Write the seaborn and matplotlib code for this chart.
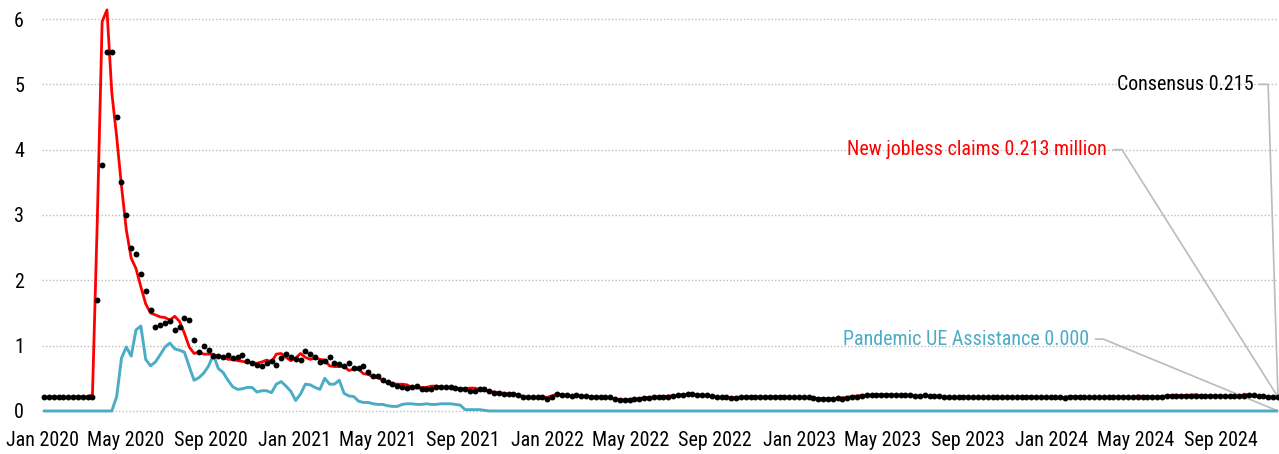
import matplotlib
matplotlib.use("Agg")
import matplotlib.pyplot as plt
import matplotlib.dates as mdates
from matplotlib import font_manager as fm
import numpy as np
import pandas as pd
import seaborn as sns

# weekly series, millions, week ending Saturday from 2020-01-04
claims = [
    0.212, 0.207, 0.220, 0.214, 0.203, 0.205, 0.215, 0.219, 0.217, 0.211, 0.252,
    2.92, 5.96, 6.14, 4.87, 4.20, 3.44, 2.77, 2.34, 2.18, 1.90, 1.64, 1.50, 1.47, 1.44, 1.43,
    1.39, 1.45, 1.37, 1.19, 0.98, 0.88, 0.90, 0.87, 0.87, 0.87, 0.83, 0.83, 0.79, 0.79,
    0.77, 0.76, 0.74, 0.74, 0.73, 0.75, 0.78, 0.75, 0.87, 0.88, 0.82, 0.77, 0.81, 0.88,
    0.82, 0.79, 0.81, 0.79, 0.78, 0.69, 0.68, 0.68, 0.68, 0.62, 0.64, 0.64, 0.57, 0.56, 0.52,
    0.51, 0.47, 0.43, 0.42, 0.41, 0.41, 0.40, 0.36, 0.35, 0.36, 0.36, 0.38, 0.38, 0.37, 0.36,
    0.36, 0.35, 0.34, 0.34, 0.35, 0.35, 0.33, 0.32, 0.30, 0.29, 0.28, 0.27, 0.26, 0.26, 0.25,
    0.22, 0.21, 0.21, 0.21, 0.21, 0.21, 0.23, 0.26, 0.25, 0.24, 0.23, 0.24, 0.23, 0.22, 0.22,
    0.22, 0.21, 0.21, 0.20,
    0.18, 0.17, 0.17, 0.18, 0.18, 0.19, 0.20, 0.21, 0.21, 0.22, 0.22, 0.23, 0.23,
    0.24, 0.25, 0.25, 0.25, 0.25, 0.24, 0.23, 0.22, 0.21, 0.21,
    0.21, 0.20, 0.21, 0.21, 0.22, 0.22, 0.22, 0.21, 0.22, 0.22, 0.22, 0.22, 0.22, 0.21, 0.21,
    0.21, 0.21, 0.20,
    0.20, 0.19, 0.19, 0.19, 0.19, 0.19, 0.20, 0.21, 0.22,
    0.23, 0.24, 0.24, 0.24, 0.25, 0.25, 0.25, 0.25, 0.24, 0.24, 0.24, 0.24, 0.23, 0.23, 0.23,
    0.23, 0.23,
    0.22, 0.22, 0.21, 0.21, 0.21, 0.22, 0.21, 0.21, 0.21, 0.21, 0.21, 0.21, 0.21, 0.21, 0.22,
    0.21, 0.21, 0.22, 0.22, 0.22, 0.21, 0.21, 0.21, 0.21,
    0.203, 0.189, 0.215, 0.224, 0.218, 0.220, 0.213, 0.201, 0.210, 0.209,
    0.211, 0.215, 0.212, 0.210, 0.222, 0.208, 0.209, 0.231, 0.222, 0.222,
    0.215, 0.219, 0.224, 0.229, 0.238, 0.242, 0.233, 0.239, 0.243, 0.249,
    0.233, 0.227, 0.232, 0.230, 0.231, 0.227, 0.220, 0.225, 0.219, 0.258,
    0.242, 0.227, 0.217, 0.221, 0.215, 0.213, 0.213,
]

consensus = [
    0.215, 0.216, 0.215, 0.215, 0.215, 0.210, 0.210, 0.215, 0.220, 0.219, 0.220,
    1.70, 3.77, 5.50, 5.50, 4.50, 3.50, 3.00, 2.50, 2.40, 2.10, 1.83, 1.55, 1.28, 1.31, 1.34,
    1.38, 1.24, 1.29, 1.43, 1.39, 1.09, 0.91, 1.00, 0.94, 0.84, 0.84, 0.83, 0.85, 0.81,
    0.82, 0.86, 0.76, 0.73, 0.71, 0.69, 0.73, 0.77, 0.71, 0.81, 0.87, 0.83, 0.79, 0.78,
    0.92, 0.87, 0.82, 0.75, 0.77, 0.82, 0.74, 0.72, 0.69, 0.73, 0.66, 0.66, 0.69, 0.60, 0.54,
    0.53, 0.47, 0.45, 0.41, 0.38, 0.36, 0.35, 0.37, 0.38, 0.33, 0.33, 0.33, 0.37, 0.37, 0.36,
    0.36, 0.35, 0.33, 0.33, 0.31, 0.30, 0.33, 0.34, 0.30, 0.28, 0.28, 0.26, 0.26, 0.26, 0.25,
    0.22, 0.21, 0.21, 0.21, 0.21, 0.18, 0.21, 0.26, 0.25, 0.24, 0.23, 0.24, 0.23, 0.23, 0.22,
    0.22, 0.21, 0.21, 0.21,
    0.19, 0.17, 0.17, 0.17, 0.18, 0.19, 0.20, 0.20, 0.21, 0.22, 0.22, 0.22, 0.23,
    0.24, 0.25, 0.26, 0.26, 0.25, 0.25, 0.24, 0.23, 0.22, 0.22,
    0.21, 0.20, 0.20, 0.21, 0.21, 0.22, 0.22, 0.21, 0.22, 0.22, 0.21, 0.22, 0.22, 0.22, 0.21,
    0.22, 0.21, 0.21,
    0.20, 0.19, 0.19, 0.19, 0.19, 0.20, 0.19, 0.20, 0.21,
    0.22, 0.23, 0.24, 0.24, 0.24, 0.25, 0.25, 0.25, 0.24, 0.25, 0.24, 0.24, 0.23, 0.23, 0.24,
    0.23, 0.23,
    0.23, 0.22, 0.22, 0.21, 0.21, 0.22, 0.21, 0.22, 0.21, 0.21, 0.21, 0.21, 0.21, 0.21, 0.22,
    0.21, 0.21, 0.22, 0.21, 0.22, 0.22, 0.21, 0.21, 0.21,
    0.212, 0.210, 0.205, 0.215, 0.212, 0.212, 0.220, 0.218, 0.215, 0.215,
    0.215, 0.214, 0.213, 0.212, 0.214, 0.212, 0.210, 0.212, 0.210, 0.218,
    0.220, 0.220, 0.220, 0.222, 0.225, 0.226, 0.235, 0.236, 0.233, 0.235,
    0.235, 0.232, 0.230, 0.230, 0.230, 0.230, 0.230, 0.226, 0.230, 0.230,
    0.245, 0.241, 0.230, 0.223, 0.220, 0.220, 0.215,
]

pua = (
    [0.0] * 15
    + [0.22, 0.81, 0.98, 0.84, 1.24, 1.30, 0.79, 0.69, 0.75, 0.86,
       0.98, 1.04, 0.95, 0.93, 0.90, 0.68, 0.47, 0.51, 0.58, 0.69,
       0.86, 0.65, 0.59, 0.47, 0.37, 0.33, 0.34, 0.36, 0.36, 0.29,
       0.31, 0.31, 0.28, 0.41, 0.45, 0.38, 0.30, 0.16, 0.26]
    + [0.41, 0.40, 0.36, 0.33, 0.50, 0.41, 0.41, 0.47, 0.27, 0.23,
       0.22, 0.15, 0.13, 0.13, 0.11, 0.10, 0.10, 0.08, 0.07, 0.07,
       0.10, 0.11, 0.11, 0.10, 0.10, 0.11, 0.10, 0.10, 0.11, 0.11,
       0.11, 0.10, 0.09, 0.02, 0.02, 0.02, 0.02, 0.01]
    + [0.0] * 164
)

labels = ["Consensus 0.215", "New jobless claims 0.213 million", "Pandemic UE Assistance 0.000"]
label_y = [5.0, 4.0, 1.1]

RED = "#ff0000"
BLUE = "#4bacc6"
GRID = "#bdbdbd"


def pick_narrow_font():
    """Find a condensed/narrow regular face, if one is installed."""
    order = ["Liberation Sans Narrow", "Roboto Condensed", "Noto Sans", "Open Sans",
             "Roboto", "Inter", "Lato", "DejaVu Sans"]
    found = []
    for f in fm.fontManager.ttflist:
        stretch = str(f.stretch)
        narrow = ("Narrow" in f.name or "Condensed" in f.name
                  or stretch in ("condensed", "semi-condensed", "extra-condensed"))
        w = f.weight if isinstance(f.weight, int) else fm.weight_dict.get(str(f.weight), 400)
        if narrow and f.style == "normal" and 350 <= w <= 500:
            rank = order.index(f.name) if f.name in order else len(order)
            found.append((rank, f.name, stretch))
    if not found:
        return None
    found.sort()
    return found[0]


n = min(len(claims), len(consensus), len(pua))
dates = pd.date_range("2020-01-04", periods=n, freq="W-SAT")
df = pd.DataFrame({
    "date": dates,
    "claims": claims[:n],
    "consensus": consensus[:n],
    "pua": pua[:n],
})

sns.set_style("white")
narrow = pick_narrow_font()
if narrow is not None:
    plt.rcParams["font.family"] = [narrow[1], "DejaVu Sans"]
    plt.rcParams["font.stretch"] = narrow[2]
else:
    plt.rcParams["font.family"] = ["Liberation Sans", "DejaVu Sans"]

fig = plt.figure(figsize=(12.79, 4.54), dpi=100)

# size text so "Jan 2020" is about as wide as in the reference (~72 px)
renderer = fig.canvas.get_renderer()
probe = fig.text(0, 0, "Jan 2020", fontsize=15)
w = probe.get_window_extent(renderer).width
probe.remove()
FS = min(16, 15 * 73 / w)

ax = fig.add_axes([42 / 1279, 1 - 417.5 / 454, 1236 / 1279, 414.8 / 454])

sns.lineplot(data=df, x="date", y="pua", ax=ax, color=BLUE, lw=2.1, zorder=3)
sns.lineplot(data=df, x="date", y="claims", ax=ax, color=RED, lw=2.0, zorder=4)
sns.scatterplot(data=df, x="date", y="consensus", ax=ax, color="black", s=18,
                linewidth=0, zorder=5, clip_on=False)

ax.set_xlim(pd.Timestamp("2020-01-01"), dates[-1])
ax.set_ylim(-0.1, 6.25)
ax.set_yticks(range(0, 7))
ax.xaxis.set_major_locator(mdates.MonthLocator(bymonth=[1, 5, 9]))
ax.xaxis.set_major_formatter(mdates.DateFormatter("%b %Y"))
ax.yaxis.grid(True, linestyle=(0, (1, 1.5)), color=GRID, lw=1)
ax.xaxis.grid(False)
ax.tick_params(axis="both", length=0, labelsize=FS, colors="#000000")
ax.tick_params(axis="y", pad=13)
ax.tick_params(axis="x", pad=10)
ax.set_xlabel("")
ax.set_ylabel("")
for s in ax.spines.values():
    s.set_visible(False)

# end labels with leader lines to the last point
trans = ax.get_yaxis_transform()
text_end = [0.980, 0.8617, 0.8474]
elbow = [0.992, 0.8738, 0.8587]
end_val = [df["consensus"].iloc[-1], df["claims"].iloc[-1], df["pua"].iloc[-1]]
colors = ["#000000", RED, BLUE]
for lab, ly, te, el, ev, c in zip(labels, label_y, text_end, elbow, end_val, colors):
    ax.text(te, ly, lab, transform=trans, ha="right", va="center", fontsize=FS, color=c)
    ax.plot([te + 0.005, el, 1.0], [ly, ly, ev], transform=trans, color="#bbbbbb",
            lw=1.2, clip_on=False, zorder=2)

fig.savefig("out.png", dpi=100)
